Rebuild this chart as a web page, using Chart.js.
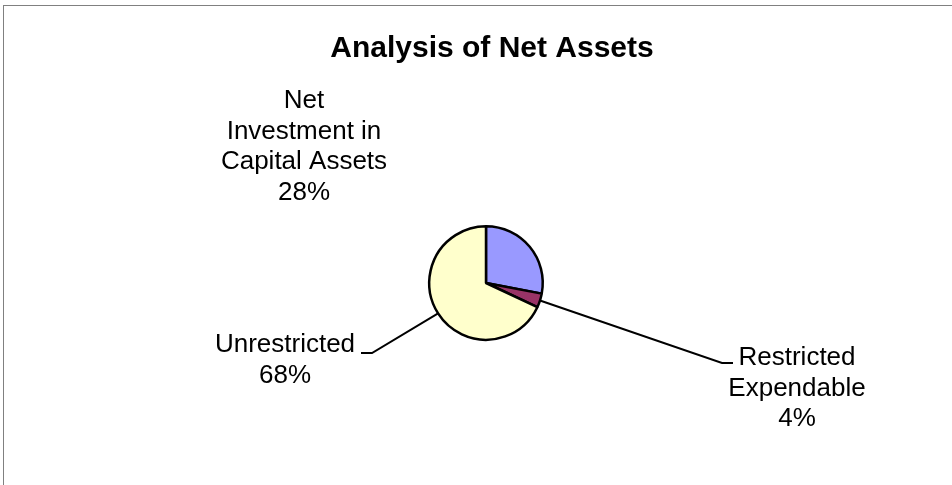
<!DOCTYPE html>
<html>
<head>
<meta charset="utf-8">
<script src="https://cdn.jsdelivr.net/npm/chart.js@4/dist/chart.umd.min.js"></script>
<style>
  html, body { margin: 0; padding: 0; background: #fff; }
  #wrap { position: relative; width: 952px; height: 485px; }
  #frame { position: absolute; left: 3px; top: 5px; right: -2px; bottom: -2px; border: 1px solid #808080; }
</style>
</head>
<body>
<div id="wrap">
  <div id="frame"></div>
  <canvas id="chart" width="952" height="485"></canvas>
</div>
<script>
// values (percent of net assets)
const categories = ['Net Investment in Capital Assets', 'Restricted Expendable', 'Unrestricted'];
const shares = [28, 4, 68];
const sliceColors = ['#9999FF', '#993366', '#FFFFCC'];

// label text as wrapped in the original
const labelLines = [
  ['Net', 'Investment in', 'Capital Assets'],
  ['Restricted', 'Expendable'],
  ['Unrestricted']
];

// where each label sits (centre x, first baseline) and its leader elbow
const labelPlace = [
  { x: 304, y: 108, leader: null },
  { x: 797, y: 365, leader: { elbow: [722, 363], end: [733, 363] } },
  { x: 285, y: 352, leader: { elbow: [372, 353], end: [361, 353] } }
];

const FONT = 'Arial, "Liberation Sans", sans-serif';

const pieLabels = {
  id: 'pieLabels',
  afterDraw(chart) {
    const ctx = chart.ctx;
    const meta = chart.getDatasetMeta(0);
    const total = shares.reduce((a, b) => a + b, 0);

    ctx.save();
    // title
    ctx.fillStyle = '#000';
    ctx.textAlign = 'center';
    ctx.textBaseline = 'alphabetic';
    ctx.font = 'bold 30px ' + FONT;
    ctx.fillText('Analysis of Net Assets', 492, 57);

    meta.data.forEach((arc, i) => {
      const p = labelPlace[i];
      const { x, y, startAngle, endAngle, outerRadius } = arc.getProps(['x', 'y', 'startAngle', 'endAngle', 'outerRadius'], true);

      if (p.leader) {
        const mid = (startAngle + endAngle) / 2;
        ctx.strokeStyle = '#000';
        ctx.lineWidth = 2;
        ctx.beginPath();
        ctx.moveTo(x + Math.cos(mid) * outerRadius, y + Math.sin(mid) * outerRadius);
        ctx.lineTo(p.leader.elbow[0], p.leader.elbow[1]);
        ctx.lineTo(p.leader.end[0], p.leader.end[1]);
        ctx.stroke();
      }

      const pct = Math.round(shares[i] / total * 100) + '%';
      const lines = labelLines[i].concat([pct]);
      ctx.font = '26px ' + FONT;
      ctx.fillStyle = '#000';
      lines.forEach((t, k) => ctx.fillText(t, p.x, p.y + k * 30.5));
    });
    ctx.restore();
  }
};

new Chart(document.getElementById('chart'), {
  type: 'pie',
  data: {
    labels: categories,
    datasets: [{
      data: shares,
      backgroundColor: sliceColors,
      borderColor: '#000',
      borderWidth: 2.5
    }]
  },
  plugins: [pieLabels],
  options: {
    responsive: false,
    animation: false,
    layout: { padding: { left: 428, right: 408, top: 225, bottom: 144 } },
    plugins: {
      legend: { display: false },
      tooltip: { enabled: false },
      title: { display: false }
    }
  }
});
</script>
</body>
</html>
